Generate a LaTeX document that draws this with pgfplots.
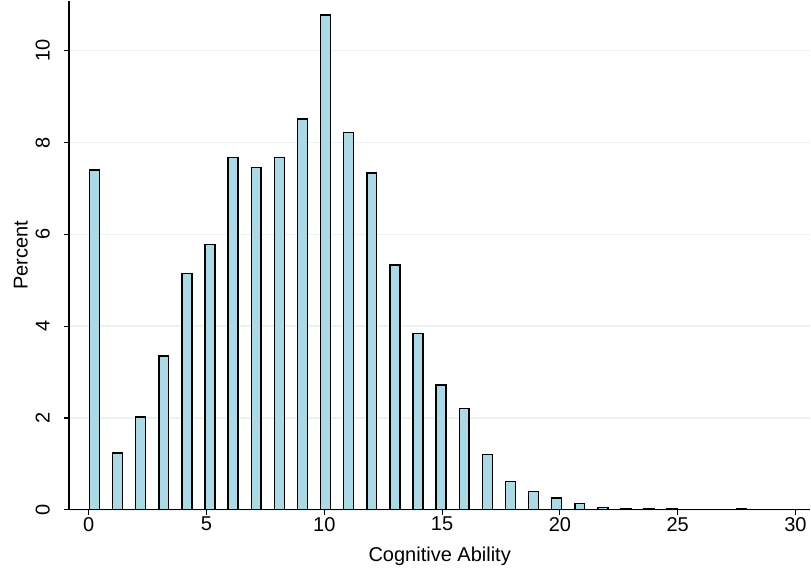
\documentclass[border=0pt]{standalone}
\usepackage{pgfplots}
\pgfplotsset{compat=1.18}
\usepackage{fontspec}
\setmainfont{Liberation Sans}
\definecolor{barfill}{HTML}{ADD8E6}
\definecolor{gridc}{HTML}{EAF2F3}
\begin{document}
\begin{tikzpicture}
\begin{axis}[
  scale only axis,
  width=556pt, height=382pt,
  xmin=-0.836, xmax=30.63,
  ymin=0, ymax=11.09,
  axis x line*=bottom, axis y line*=left,
  axis line style={black, line width=0.9pt},
  xtick={0,5,...,30}, ytick={0,2,...,10},
  tick align=outside,
  major tick length=4pt,
  tick style={black, line width=0.9pt},
  ymajorgrids, grid style={gridc, line width=1pt},
  yticklabel style={rotate=90, anchor=south, yshift=7pt},
  xticklabel style={yshift=2pt},
  /pgf/number format/assume math mode=true,
  ticklabel style={font=\fontsize{15pt}{17pt}\selectfont},
  label style={font=\fontsize{15pt}{17pt}\selectfont},
  xlabel={Cognitive Ability},
  ylabel={Percent},
  xlabel style={yshift=-4.5pt},
  ylabel style={yshift=-1pt},
  ybar, bar width=0.42, bar shift=0pt,
]
\addplot[fill=barfill, draw=black, line width=1.1pt] coordinates {
(0.242,7.40) (1.223,1.24) (2.204,2.02) (3.185,3.35) (4.166,5.15)
(5.147,5.78) (6.128,7.67) (7.109,7.45) (8.090,7.67) (9.071,8.51)
(10.052,10.78) (11.033,8.22) (12.014,7.34) (12.995,5.33) (13.976,3.84)
(14.957,2.72) (15.938,2.21) (16.919,1.20) (17.900,0.62) (18.881,0.40)
(19.862,0.26) (20.843,0.14) (21.824,0.05) (22.805,0.02) (23.786,0.03)
(24.767,0.03) (27.710,0.03)
};
\end{axis}
\path ([xshift=-7pt]current bounding box.west);
\path ([yshift=-5pt]current bounding box.south);
\end{tikzpicture}
\end{document}
